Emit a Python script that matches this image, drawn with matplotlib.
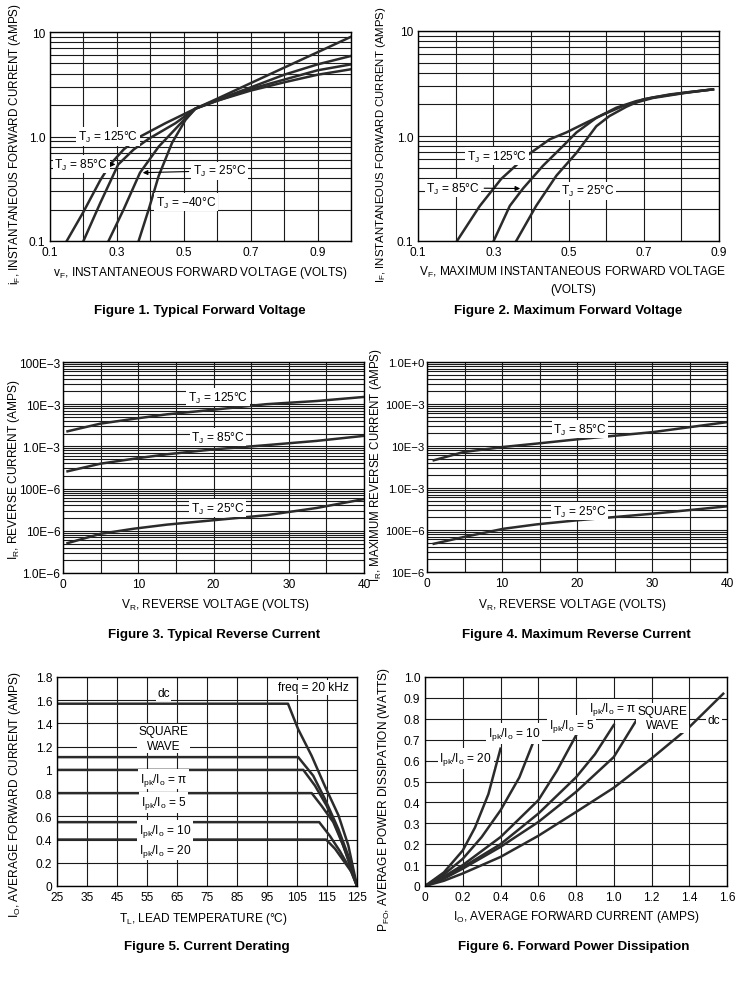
import matplotlib.pyplot as plt
from matplotlib.ticker import FixedLocator, MultipleLocator, LogLocator, NullFormatter, FixedFormatter

plt.rcParams['font.family'] = ['Liberation Sans', 'DejaVu Sans']
plt.rcParams['mathtext.fontset'] = 'custom'
plt.rcParams['mathtext.rm'] = 'Liberation Sans'

# ---- Figure 1: typical forward voltage (V, A) ----
f1_v125 = [0.15, 0.20, 0.25, 0.28, 0.32, 0.365, 0.445, 0.535, 0.6, 0.7, 0.8, 0.9, 1.0]
f1_i125 = [0.1, 0.19, 0.38, 0.54, 0.75, 0.98, 1.34, 1.85, 2.2, 2.75, 3.3, 3.9, 4.4]
f1_v85 = [0.20, 0.25, 0.304, 0.35, 0.395, 0.475, 0.535, 0.6, 0.7, 0.8, 0.9, 1.0]
f1_i85 = [0.1, 0.23, 0.54, 0.75, 0.95, 1.34, 1.85, 2.2, 2.85, 3.5, 4.3, 4.9]
f1_v25 = [0.275, 0.32, 0.369, 0.425, 0.495, 0.535, 0.6, 0.7, 0.8, 0.9, 1.0]
f1_i25 = [0.1, 0.2, 0.45, 0.8, 1.38, 1.85, 2.25, 2.95, 3.9, 4.9, 5.9]
f1_vm40 = [0.365, 0.395, 0.425, 0.465, 0.505, 0.535, 0.6, 0.7, 0.8, 0.9, 1.0]
f1_im40 = [0.1, 0.2, 0.42, 0.87, 1.44, 1.85, 2.3, 3.24, 4.56, 6.4, 9.0]

# ---- Figure 2: maximum forward voltage ----
f2_v125 = [0.2036, 0.264, 0.321, 0.388, 0.45, 0.494, 0.547, 0.592, 0.645, 0.724, 0.813, 0.884]
f2_i125 = [0.1, 0.215, 0.39, 0.645, 0.93, 1.08, 1.34, 1.6, 1.93, 2.3, 2.58, 2.78]
f2_v85 = [0.301, 0.344, 0.379, 0.432, 0.485, 0.521, 0.574, 0.627, 0.68, 0.724, 0.813, 0.884]
f2_i85 = [0.1, 0.216, 0.316, 0.52, 0.8, 1.08, 1.49, 1.86, 2.15, 2.33, 2.6, 2.78]
f2_v25 = [0.361, 0.414, 0.468, 0.521, 0.574, 0.609, 0.654, 0.698, 0.769, 0.884]
f2_i25 = [0.1, 0.216, 0.42, 0.69, 1.24, 1.55, 1.9, 2.23, 2.49, 2.78]

# ---- Figure 3: typical reverse current ----
f3_v = [0.6, 5.0, 9.4, 13.8, 20.0, 27.0, 33.7, 39.9]
f3_i125 = [2.28e-3, 3.47e-3, 4.5e-3, 5.75e-3, 7.4e-3, 10e-3, 11.9e-3, 14.8e-3]
f3_i85 = [2.57e-4, 3.9e-4, 5.1e-4, 6.5e-4, 8.5e-4, 1.07e-3, 1.35e-3, 1.77e-3]
f3_i25 = [5.1e-6, 8.5e-6, 1.12e-5, 1.4e-5, 1.78e-5, 2.34e-5, 3.47e-5, 5.6e-5]

# ---- Figure 4: maximum reverse current ----
f4_v = [0.9, 4.9, 10.2, 14.6, 20.0, 30.2, 40.0]
f4_i85 = [4.57e-3, 7.2e-3, 9.5e-3, 11.4e-3, 14.4e-3, 21.5e-3, 37e-3]
f4_i25 = [4.7e-5, 6.8e-5, 1.07e-4, 1.36e-4, 1.7e-4, 2.45e-4, 3.66e-4]

# ---- Figure 5: current derating (lead temp, A) ----
f5_t_dc = [25, 102, 105.4, 109.9, 114.3, 118.8, 122.1, 125]
f5_i_dc = [1.57, 1.57, 1.35, 1.12, 0.86, 0.61, 0.35, 0]
f5_t_sq = [25, 105.4, 110.4, 114.3, 118.8, 122.1, 125]
f5_i_sq = [1.11, 1.11, 0.95, 0.75, 0.49, 0.26, 0]
f5_t_pi = [25, 107.1, 111, 114.9, 118.8, 122.1, 125]
f5_i_pi = [1.0, 1.0, 0.864, 0.69, 0.46, 0.23, 0]
f5_t_5 = [25, 109.9, 113.2, 117.1, 120.4, 125]
f5_i_5 = [0.8, 0.8, 0.69, 0.55, 0.35, 0]
f5_t_10 = [25, 112.4, 116, 119.3, 122.7, 125]
f5_i_10 = [0.55, 0.55, 0.43, 0.30, 0.146, 0]
f5_t_20 = [25, 114.7, 117.7, 121, 123.2, 125]
f5_i_20 = [0.4, 0.4, 0.32, 0.2, 0.12, 0]

# ---- Figure 6: forward power dissipation (A, W) ----
f6_i_dc = [0, 0.1, 0.2, 0.4, 0.6, 0.8, 1.0, 1.2, 1.4, 1.58]
f6_p_dc = [0, 0.025, 0.06, 0.139, 0.24, 0.354, 0.47, 0.61, 0.76, 0.92]
f6_i_sq = [0, 0.1, 0.2, 0.4, 0.6, 0.8, 1.0, 1.12]
f6_p_sq = [0, 0.035, 0.083, 0.187, 0.306, 0.45, 0.617, 0.793]
f6_i_pi = [0, 0.1, 0.2, 0.4, 0.6, 0.8, 0.9, 1.0]
f6_p_pi = [0, 0.04, 0.09, 0.2, 0.346, 0.52, 0.63, 0.77]
f6_i_5 = [0, 0.1, 0.2, 0.4, 0.6, 0.7, 0.8]
f6_p_5 = [0, 0.045, 0.1, 0.234, 0.41, 0.553, 0.72]
f6_i_10 = [0, 0.1, 0.2, 0.3, 0.4, 0.5, 0.57]
f6_p_10 = [0, 0.055, 0.13, 0.234, 0.362, 0.52, 0.68]
f6_i_20 = [0, 0.1, 0.2, 0.265, 0.336, 0.4]
f6_p_20 = [0, 0.065, 0.17, 0.28, 0.44, 0.657]

W, H = 741, 1004
fig = plt.figure(figsize=(W / 100, H / 100), dpi=100)

CURVE = '#2b2b2b'
LW = 1.8
FS = 8.6
TFS = 9.6
BOX = dict(facecolor='white', edgecolor='none', pad=1.2)


def px_axes(l, t, r, b):
    return fig.add_axes([l / W, 1 - b / H, (r - l) / W, (b - t) / H])


def ftext(x, y, s, size=FS, **kw):
    fig.text(x / W, 1 - y / H, s, ha='center', va='center', fontsize=size, **kw)


def style(ax):
    ax.grid(True, which='both', color='#1a1a1a', lw=0.8)
    ax.set_axisbelow(True)
    ax.tick_params(which='both', length=0, labelsize=FS, pad=3.5)
    for s in ax.spines.values():
        s.set_linewidth(1.0)


def tj(t):
    return 'T$_\\mathregular{J}$ = ' + t + '°C'


def ipk(r):
    return 'I$_\\mathregular{pk}$/I$_\\mathregular{o}$ = ' + r


# Figure 1
ax1 = px_axes(50, 33, 351, 242)
ax1.set_yscale('log')
ax1.set_xlim(0.1, 1.0)
ax1.set_ylim(0.1, 10)
ax1.xaxis.set_major_locator(FixedLocator([0.1, 0.3, 0.5, 0.7, 0.9]))
ax1.xaxis.set_minor_locator(MultipleLocator(0.1))
ax1.yaxis.set_major_locator(FixedLocator([0.1, 1, 10]))
ax1.yaxis.set_major_formatter(FixedFormatter(['0.1', '1.0', '10']))
ax1.yaxis.set_minor_locator(LogLocator(subs=range(2, 10)))
ax1.yaxis.set_minor_formatter(NullFormatter())
style(ax1)
for v, i in [(f1_v125, f1_i125), (f1_v85, f1_i85), (f1_v25, f1_i25), (f1_vm40, f1_im40)]:
    ax1.plot(v, i, color=CURVE, lw=LW)
ax1.text(0.273, 1.0, tj('125'), ha='center', va='center', fontsize=FS, bbox=BOX)
ax1.annotate(tj('85'), xy=(0.304, 0.54), xytext=(0.193, 0.545), ha='center', va='center',
             fontsize=FS, bbox=BOX, arrowprops=dict(arrowstyle='-|>', color='k', lw=0.8, mutation_scale=7))
ax1.annotate(tj('25'), xy=(0.369, 0.45), xytext=(0.608, 0.47), ha='center', va='center',
             fontsize=FS, bbox=BOX, arrowprops=dict(arrowstyle='-|>', color='k', lw=0.8, mutation_scale=7))
ax1.text(0.507, 0.236, tj('\u221240'), ha='center', va='center', fontsize=FS, bbox=BOX)
ftext(15, 144, 'i$_\\mathregular{F}$, INSTANTANEOUS FORWARD CURRENT (AMPS)', size=8.4, rotation=90)
ftext(200, 273, 'v$_\\mathregular{F}$, INSTANTANEOUS FORWARD VOLTAGE (VOLTS)')
ftext(200, 311, 'Figure 1. Typical Forward Voltage', size=TFS, fontweight='bold')

# Figure 2
ax2 = px_axes(418, 32, 719, 242)
ax2.set_yscale('log')
ax2.set_xlim(0.1, 0.9)
ax2.set_ylim(0.1, 10)
ax2.xaxis.set_major_locator(FixedLocator([0.1, 0.3, 0.5, 0.7, 0.9]))
ax2.xaxis.set_minor_locator(MultipleLocator(0.1))
ax2.yaxis.set_major_locator(FixedLocator([0.1, 1, 10]))
ax2.yaxis.set_major_formatter(FixedFormatter(['0.1', '1.0', '10']))
ax2.yaxis.set_minor_locator(LogLocator(subs=range(2, 10)))
ax2.yaxis.set_minor_formatter(NullFormatter())
style(ax2)
for v, i in [(f2_v125, f2_i125), (f2_v85, f2_i85), (f2_v25, f2_i25)]:
    ax2.plot(v, i, color=CURVE, lw=LW)
ax2.text(0.31, 0.645, tj('125'), ha='center', va='center', fontsize=FS, bbox=BOX)
ax2.annotate(tj('85'), xy=(0.379, 0.316), xytext=(0.193, 0.32), ha='center', va='center',
             fontsize=FS, bbox=BOX, arrowprops=dict(arrowstyle='-|>', color='k', lw=0.8, mutation_scale=7))
ax2.text(0.552, 0.30, tj('25'), ha='center', va='center', fontsize=FS, bbox=BOX)
ftext(381, 145, 'I$_\\mathregular{F}$, INSTANTANEOUS FORWARD CURRENT (AMPS)', size=8.2, rotation=90)
ftext(573, 272, 'V$_\\mathregular{F}$, MAXIMUM INSTANTANEOUS FORWARD VOLTAGE')
ftext(573, 290, '(VOLTS)')
ftext(568, 311, 'Figure 2. Maximum Forward Voltage', size=TFS, fontweight='bold')

# Figure 3
ax3 = px_axes(63, 363, 364, 574)
ax3.set_yscale('log')
ax3.set_xlim(0, 40)
ax3.set_ylim(1e-6, 1e-1)
ax3.xaxis.set_major_locator(FixedLocator([0, 10, 20, 30, 40]))
ax3.xaxis.set_minor_locator(MultipleLocator(5))
ax3.yaxis.set_major_locator(FixedLocator([1e-6, 1e-5, 1e-4, 1e-3, 1e-2, 1e-1]))
ax3.yaxis.set_major_formatter(FixedFormatter(['1.0E\u22126', '10E\u22126', '100E\u22126',
                                              '1.0E\u22123', '10E\u22123', '100E\u22123']))
ax3.yaxis.set_minor_locator(LogLocator(subs=range(2, 10)))
ax3.yaxis.set_minor_formatter(NullFormatter())
style(ax3)
ax3.tick_params(axis='y', pad=2)
for i in [f3_i125, f3_i85, f3_i25]:
    ax3.plot(f3_v, i, color=CURVE, lw=LW)
ax3.text(20.6, 1.47e-2, tj('125'), ha='center', va='center', fontsize=FS, bbox=BOX)
ax3.text(20.6, 1.66e-3, tj('85'), ha='center', va='center', fontsize=FS, bbox=BOX)
ax3.text(20.5, 3.47e-5, tj('25'), ha='center', va='center', fontsize=FS, bbox=BOX)
ftext(14, 470, 'I$_\\mathregular{R}$, REVERSE CURRENT (AMPS)', rotation=90)
ftext(215, 605, 'V$_\\mathregular{R}$, REVERSE VOLTAGE (VOLTS)')
ftext(214, 635, 'Figure 3. Typical Reverse Current', size=TFS, fontweight='bold')

# Figure 4
ax4 = px_axes(427, 363, 727, 573)
ax4.set_yscale('log')
ax4.set_xlim(0, 40)
ax4.set_ylim(1e-5, 1.0)
ax4.xaxis.set_major_locator(FixedLocator([0, 10, 20, 30, 40]))
ax4.xaxis.set_minor_locator(MultipleLocator(5))
ax4.yaxis.set_major_locator(FixedLocator([1e-5, 1e-4, 1e-3, 1e-2, 1e-1, 1.0]))
ax4.yaxis.set_major_formatter(FixedFormatter(['10E\u22126', '100E\u22126', '1.0E\u22123',
                                              '10E\u22123', '100E\u22123', '1.0E+0']))
ax4.yaxis.set_minor_locator(LogLocator(subs=range(2, 10)))
ax4.yaxis.set_minor_formatter(NullFormatter())
style(ax4)
ax4.tick_params(axis='y', pad=2, labelsize=8.2)
for i in [f4_i85, f4_i25]:
    ax4.plot(f4_v, i, color=CURVE, lw=LW)
ax4.text(20.4, 2.54e-2, tj('85'), ha='center', va='center', fontsize=FS, bbox=BOX)
ax4.text(20.3, 2.8e-4, tj('25'), ha='center', va='center', fontsize=FS, bbox=BOX)
ftext(376, 465, 'I$_\\mathregular{R}$, MAXIMUM REVERSE CURRENT (AMPS)', size=8.3, rotation=90)
ftext(572, 605, 'V$_\\mathregular{R}$, REVERSE VOLTAGE (VOLTS)')
ftext(576, 635, 'Figure 4. Maximum Reverse Current', size=TFS, fontweight='bold')

# Figure 5
ax5 = px_axes(57, 678, 357, 887)
ax5.set_xlim(25, 125)
ax5.set_ylim(0, 1.8)
ax5.set_xticks(range(25, 126, 10))
ax5.set_yticks([0, 0.2, 0.4, 0.6, 0.8, 1.0, 1.2, 1.4, 1.6, 1.8])
ax5.set_yticklabels(['0', '0.2', '0.4', '0.6', '0.8', '1', '1.2', '1.4', '1.6', '1.8'])
style(ax5)
for t, i in [(f5_t_dc, f5_i_dc), (f5_t_sq, f5_i_sq), (f5_t_pi, f5_i_pi),
             (f5_t_5, f5_i_5), (f5_t_10, f5_i_10), (f5_t_20, f5_i_20)]:
    ax5.plot(t, i, color=CURVE, lw=LW)
ax5.text(60.5, 1.66, 'dc', ha='center', va='center', fontsize=FS, bbox=BOX)
ax5.text(60.5, 1.27, 'SQUARE\nWAVE', ha='center', va='center', fontsize=FS, bbox=BOX,
         linespacing=1.25)
ax5.text(60.5, 0.92, ipk('\u03c0'), ha='center', va='center', fontsize=FS, bbox=BOX)
ax5.text(60.5, 0.72, ipk('5'), ha='center', va='center', fontsize=FS, bbox=BOX)
ax5.text(61, 0.48, ipk('10'), ha='center', va='center', fontsize=FS, bbox=BOX)
ax5.text(61, 0.31, ipk('20'), ha='center', va='center', fontsize=FS, bbox=BOX)
ax5.text(110.4, 1.71, 'freq = 20 kHz', ha='center', va='center', fontsize=FS, bbox=BOX)
ftext(15, 795, 'I$_\\mathregular{O}$, AVERAGE FORWARD CURRENT (AMPS)', rotation=90)
ftext(203, 919, 'T$_\\mathregular{L}$, LEAD TEMPERATURE (°C)')
ftext(207, 947, 'Figure 5. Current Derating', size=TFS, fontweight='bold')

# Figure 6
ax6 = px_axes(425, 678, 727, 887)
ax6.set_xlim(0, 1.6)
ax6.set_ylim(0, 1.0)
ax6.set_xticks([0, 0.2, 0.4, 0.6, 0.8, 1.0, 1.2, 1.4, 1.6])
ax6.set_xticklabels(['0', '0.2', '0.4', '0.6', '0.8', '1.0', '1.2', '1.4', '1.6'])
ax6.set_yticks([0, 0.1, 0.2, 0.3, 0.4, 0.5, 0.6, 0.7, 0.8, 0.9, 1.0])
ax6.set_yticklabels(['0', '0.1', '0.2', '0.3', '0.4', '0.5', '0.6', '0.7', '0.8', '0.9', '1.0'])
style(ax6)
for i, p in [(f6_i_dc, f6_p_dc), (f6_i_sq, f6_p_sq), (f6_i_pi, f6_p_pi),
             (f6_i_5, f6_p_5), (f6_i_10, f6_p_10), (f6_i_20, f6_p_20)]:
    ax6.plot(i, p, color=CURVE, lw=LW)
ax6.text(0.216, 0.61, ipk('20'), ha='center', va='center', fontsize=FS, bbox=BOX)
ax6.text(0.473, 0.729, ipk('10'), ha='center', va='center', fontsize=FS, bbox=BOX)
ax6.text(0.777, 0.769, ipk('5'), ha='center', va='center', fontsize=FS, bbox=BOX)
ax6.text(0.993, 0.848, ipk('\u03c0'), ha='center', va='center', fontsize=FS, bbox=BOX)
ax6.text(1.258, 0.805, 'SQUARE\nWAVE', ha='center', va='center', fontsize=FS, bbox=BOX,
         linespacing=1.25)
ax6.text(1.53, 0.793, 'dc', ha='center', va='center', fontsize=FS, bbox=BOX)
ftext(384, 800, 'P$_\\mathregular{FO}$, AVERAGE POWER DISSIPATION (WATTS)', rotation=90)
ftext(576, 917, 'I$_\\mathregular{O}$, AVERAGE FORWARD CURRENT (AMPS)')
ftext(574, 947, 'Figure 6. Forward Power Dissipation', size=TFS, fontweight='bold')

fig.savefig('out.png', dpi=100, facecolor='white')
